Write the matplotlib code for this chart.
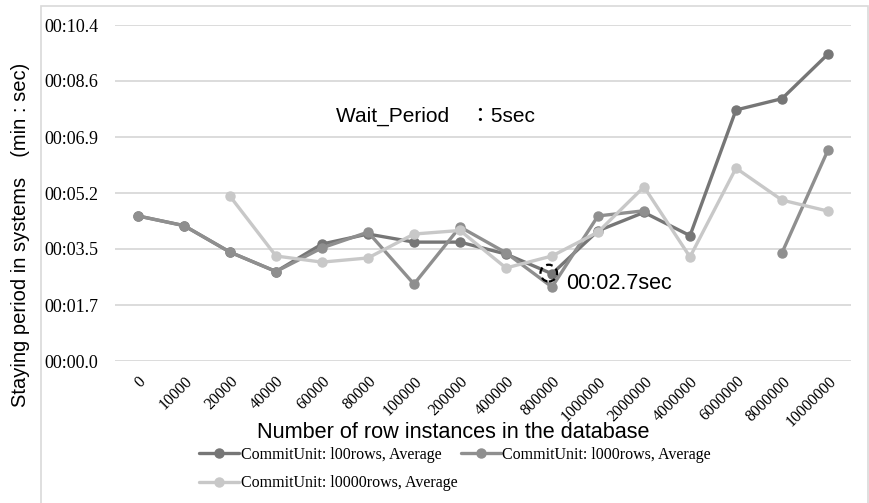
import matplotlib.pyplot as plt
from matplotlib.patches import Ellipse, Rectangle
import numpy as np

categories = ["0", "10000", "20000", "40000", "60000", "80000", "100000", "200000",
              "400000", "800000", "1000000", "2000000", "4000000", "6000000",
              "8000000", "10000000"]

# seconds; None = no value
rows_100 = [4.49, 4.19, 3.37, 2.77, 3.62, 3.93, 3.68, 3.68, 3.31, 2.70, 4.03, 4.60,
            3.88, 7.77, 8.12, 9.50]
rows_1000 = [4.49, 4.19, 3.37, 2.77, 3.50, 3.99, 2.38, 4.15, 3.35, 2.29, 4.49, 4.65,
             None, None, 3.35, 6.53]
rows_10000 = [None, None, 5.10, 3.25, 3.06, 3.19, 3.93, 4.04, 2.88, 3.25, 3.99, 5.39,
              3.22, 5.97, 4.98, 4.64]

ytick_labels = ["00:00.0", "00:01.7", "00:03.5", "00:05.2", "00:06.9", "00:08.6", "00:10.4"]
y_max = 10.4

SANS = ["Liberation Sans", "DejaVu Sans"]
SERIF = ["Liberation Serif", "DejaVu Serif"]
SANS_CJK = ["Liberation Sans", "Noto Sans CJK JP", "DejaVu Sans"]

def to_arr(vals):
    return np.array([np.nan if v is None else v for v in vals], dtype=float)

fig = plt.figure(figsize=(8.69, 5.03), dpi=100)
ax = fig.add_axes([115 / 869, 1 - 361 / 503, (851 - 115) / 869, (361 - 25) / 503])

x = np.arange(len(categories))
series = [
    ("CommitUnit: l00rows, Average", rows_100, "#767676"),
    ("CommitUnit: l000rows, Average", rows_1000, "#8f8f8f"),
    ("CommitUnit: l0000rows, Average", rows_10000, "#c8c8c8"),
]
handles = {}
for label, vals, color in series:
    h, = ax.plot(x, to_arr(vals), color=color, lw=2.4, marker="o", ms=6.5,
                 label=label, solid_capstyle="round", zorder=3)
    handles[label] = h

ax.set_xlim(-0.5, len(categories) - 0.5)
ax.set_ylim(0, y_max)
ax.set_yticks(np.linspace(0, y_max, len(ytick_labels)))
ax.set_yticklabels(ytick_labels, family=SERIF, fontsize=13)
ax.set_xticks(x)
ax.set_xticklabels(categories, rotation=45, ha="right", rotation_mode="anchor",
                   family=SERIF, fontsize=11.5)
ax.tick_params(axis="both", length=0)
ax.tick_params(axis="y", pad=12)
ax.tick_params(axis="x", pad=9)
for s in ax.spines.values():
    s.set_visible(False)
ax.grid(axis="y", color="#d9d9d9", lw=1.3)
ax.set_axisbelow(True)

# annotations
ax.add_patch(Ellipse((8.93, 2.72), 0.36, 0.52, fill=False, ec="black", lw=1.6,
                     ls=(0, (3, 2)), zorder=4))
ax.text(9.3, 2.41, "00:02.7sec", family=SANS, fontsize=15.5, va="center", ha="left")
ax.text(4.3, 7.58, "Wait_Period\u3000\uff1a5sec", family=SANS_CJK,
        fontsize=15, va="center", ha="left")

fig.text(453 / 869, 1 - 432 / 503, "Number of row instances in the database",
         family=SANS, fontsize=15.6, ha="center", va="center")
fig.text(21 / 869, 1 - 235 / 503, "Staying period in systems\u3000(min : sec)",
         family=SANS_CJK, fontsize=14.5, rotation=90, ha="center", va="center")

# legend: order so that rows read 100 / 1000 then 10000
order = [series[0][0], series[2][0], series[1][0]]
fig.legend([handles[k] for k in order], order, ncol=2, loc="center",
           bbox_to_anchor=(455 / 869, 1 - 469 / 503), frameon=False,
           prop={"family": SERIF, "size": 11.5}, handlelength=2.5,
           handletextpad=0.1, columnspacing=0.2, labelspacing=0.8)

# light border box around chart
fig.patches.append(Rectangle((41 / 869, -0.01), (868 - 41) / 869, 1 - 6 / 503 + 0.01,
                             transform=fig.transFigure, fill=False, ec="#d9d9d9", lw=1.2))

fig.savefig("out.png", dpi=100)
